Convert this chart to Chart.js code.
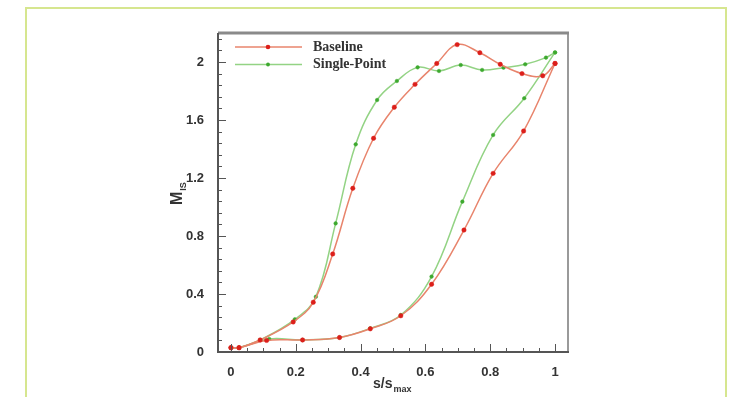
<!DOCTYPE html>
<html>
<head>
<meta charset="utf-8">
<script src="https://cdn.jsdelivr.net/npm/chart.js@4.4.0/dist/chart.umd.min.js"></script>
<style>
  html, body { margin: 0; padding: 0; background: #fff; }
  #wrap { position: relative; width: 732px; height: 397px; }
  #frame { position: absolute; left: 25px; top: 7px; width: 698px; height: 400px;
           border: 2px solid #d6e68f; pointer-events: none; }
</style>
</head>
<body>
<div id="wrap">
  <canvas id="mach" width="732" height="397"></canvas>
  <div id="frame"></div>
</div>
<script>
// values (s/s_max vs isentropic Mach number)
var xBaseUpper = [0, 0.025, 0.09, 0.192, 0.254, 0.314, 0.376, 0.44, 0.504, 0.568, 0.635, 0.698, 0.768, 0.831, 0.898, 0.962, 1.0];
var yBaseUpper = [0.03, 0.03, 0.083, 0.207, 0.343, 0.676, 1.129, 1.474, 1.688, 1.846, 1.99, 2.12, 2.064, 1.984, 1.92, 1.905, 1.99];
var xBaseLower = [0, 0.025, 0.11, 0.221, 0.335, 0.43, 0.524, 0.619, 0.719, 0.809, 0.903, 1.0];
var yBaseLower = [0.03, 0.03, 0.08, 0.083, 0.1, 0.16, 0.25, 0.467, 0.841, 1.232, 1.524, 1.99];
var xSpUpper = [0, 0.025, 0.09, 0.197, 0.262, 0.323, 0.385, 0.451, 0.512, 0.576, 0.642, 0.709, 0.775, 0.841, 0.908, 0.972, 1.0];
var ySpUpper = [0.03, 0.03, 0.083, 0.225, 0.381, 0.887, 1.432, 1.738, 1.869, 1.963, 1.938, 1.979, 1.945, 1.961, 1.984, 2.03, 2.066];
var xSpLower = [0, 0.025, 0.118, 0.221, 0.335, 0.43, 0.524, 0.619, 0.714, 0.809, 0.905, 1.0];
var ySpLower = [0.03, 0.03, 0.09, 0.083, 0.1, 0.163, 0.255, 0.52, 1.037, 1.497, 1.75, 2.066];
var xTicks = [0, 0.2, 0.4, 0.6, 0.8, 1];
var yTicks = [0, 0.4, 0.8, 1.2, 1.6, 2];
var seriesNames = ['Baseline', 'Single-Point'];

function pts(xs, ys) {
    return xs.map(function(v, i){ return {x: v, y: ys[i]}; });
}

var redLine = '#e8846c', redDot = '#dc1f1a';
var greenLine = '#93d384', greenDot = '#3da92e';

function series(label, data, line, dot, r) {
    return {
        label: label,
        data: data,
        showLine: true,
        borderColor: line,
        borderWidth: 1.5,
        backgroundColor: dot,
        pointBackgroundColor: dot,
        pointBorderColor: dot,
        pointBorderWidth: 0.5,
        pointRadius: r,
        pointStyle: 'circle',
        tension: 0.4
    };
}

// draws inward ticks, frame box, legend and axis titles
var decor = {
    id: 'decor',
    afterDraw: function(chart) {
        var ctx = chart.ctx, a = chart.chartArea;
        var xs = chart.scales.x, ys = chart.scales.y;
        ctx.save();
        ctx.strokeStyle = '#555';
        ctx.lineWidth = 1;
        for (var i = 0; i <= 20; i++) {
            var px = Math.round(xs.getPixelForValue(i * 0.05)) + 0.5;
            ctx.beginPath();
            ctx.moveTo(px, a.bottom);
            ctx.lineTo(px, a.bottom - (i % 4 === 0 ? 8 : 4));
            ctx.stroke();
        }
        for (var j = 0; j <= 27; j++) {
            var py = Math.round(ys.getPixelForValue(j * 0.08)) + 0.5;
            ctx.beginPath();
            ctx.moveTo(a.left, py);
            ctx.lineTo(a.left + (j % 5 === 0 ? 8 : 4), py);
            ctx.stroke();
        }
        // box
        ctx.lineWidth = 2;
        ctx.strokeStyle = '#9a9a9a';
        ctx.beginPath();
        ctx.moveTo(a.right, a.top); ctx.lineTo(a.right, a.bottom);
        ctx.stroke();
        ctx.lineWidth = 3;
        ctx.strokeStyle = '#8a8a8a';
        ctx.beginPath();
        ctx.moveTo(a.left, a.top); ctx.lineTo(a.right + 1, a.top);
        ctx.stroke();
        ctx.lineWidth = 2;
        ctx.strokeStyle = '#555';
        ctx.beginPath();
        ctx.moveTo(a.left, a.top); ctx.lineTo(a.left, a.bottom); ctx.lineTo(a.right + 1, a.bottom);
        ctx.stroke();

        // legend
        var rows = [[redLine, redDot, 2.3], [greenLine, greenDot, 1.9]];
        rows.forEach(function(r, k) {
            var ly = 47 + k * 17.5;
            ctx.strokeStyle = r[0];
            ctx.lineWidth = 1.5;
            ctx.beginPath();
            ctx.moveTo(235, ly); ctx.lineTo(302, ly);
            ctx.stroke();
            ctx.fillStyle = r[1];
            ctx.beginPath();
            ctx.arc(268, ly, r[2], 0, Math.PI * 2);
            ctx.fill();
            ctx.fillStyle = '#333';
            ctx.font = 'bold 14px "Liberation Serif"';
            ctx.textBaseline = 'middle';
            ctx.textAlign = 'left';
            ctx.fillText(seriesNames[k], 313, ly);
        });

        // y title M_IS
        ctx.fillStyle = '#333';
        ctx.save();
        ctx.translate(182, 205);
        ctx.rotate(-Math.PI / 2);
        ctx.textBaseline = 'alphabetic';
        ctx.font = 'bold 16px "Liberation Sans"';
        ctx.fillText('M', 0, 0);
        var mw = ctx.measureText('M').width;
        ctx.font = 'bold 9px "Liberation Sans"';
        ctx.fillText('IS', mw + 1, 4);
        ctx.restore();

        // x title s/s_max
        ctx.textBaseline = 'alphabetic';
        ctx.font = 'bold 14px "Liberation Sans"';
        ctx.fillText('s/s', 373, 388);
        var sw = ctx.measureText('s/s').width;
        ctx.font = 'bold 9px "Liberation Sans"';
        ctx.fillText('max', 373 + sw + 1, 392);
        ctx.restore();
    }
};

var tickFont = { family: '"Liberation Sans", Arial, sans-serif', size: 13, weight: 'bold' };

new Chart(document.getElementById('mach').getContext('2d'), {
    type: 'scatter',
    data: {
        datasets: [
            series('Baseline', pts(xBaseUpper, yBaseUpper), redLine, redDot, 2.2),
            series('Baseline lower', pts(xBaseLower, yBaseLower), redLine, redDot, 2.2),
            series('Single-Point', pts(xSpUpper, ySpUpper), greenLine, greenDot, 1.8),
            series('Single-Point lower', pts(xSpLower, ySpLower), greenLine, greenDot, 1.8)
        ]
    },
    options: {
        responsive: false,
        animation: false,
        layout: { padding: { left: 0, right: 164, top: 33, bottom: 0 } },
        plugins: { legend: { display: false }, tooltip: { enabled: false } },
        scales: {
            x: {
                type: 'linear',
                min: -0.04, max: 1.04,
                grid: { display: false },
                border: { display: false },
                afterBuildTicks: function(s) { s.ticks = xTicks.map(function(v){ return {value: v}; }); },
                afterFit: function(s) { s.height = 45; },
                ticks: { color: '#333', font: tickFont, padding: 5, maxRotation: 0,
                         callback: function(v) { return String(+v.toFixed(2)); } }
            },
            y: {
                min: 0, max: 2.2,
                grid: { display: false },
                border: { display: false },
                afterBuildTicks: function(s) { s.ticks = yTicks.map(function(v){ return {value: v}; }); },
                afterFit: function(s) { s.width = 218; },
                ticks: { color: '#333', font: tickFont, padding: 6,
                         callback: function(v) { return String(+v.toFixed(2)); } }
            }
        }
    },
    plugins: [decor]
});
</script>
</body>
</html>
